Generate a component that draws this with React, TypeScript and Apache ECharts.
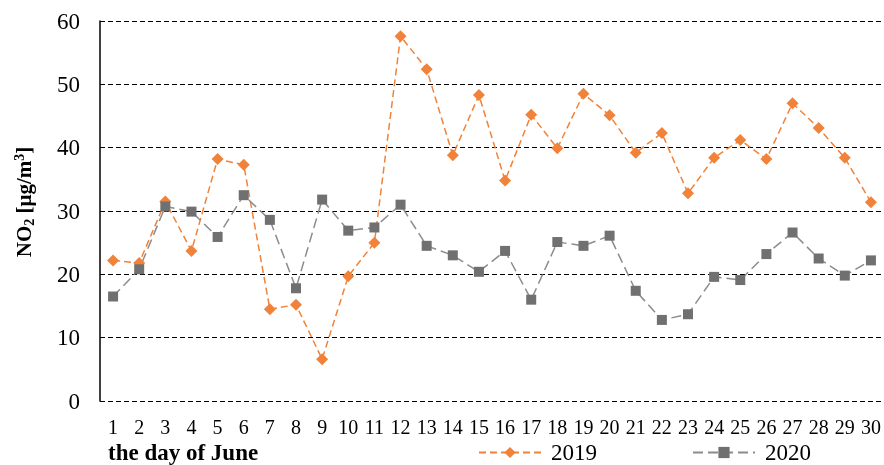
import React, { useEffect, useRef } from "react";
import * as echarts from "echarts";

const days = ["1","2","3","4","5","6","7","8","9","10","11","12","13","14","15","16","17","18","19","20","21","22","23","24","25","26","27","28","29","30"];
const values2019 = [22.2, 21.8, 31.5, 23.7, 38.2, 37.3, 14.5, 15.2, 6.6, 19.7, 25.0, 57.6, 52.4, 38.8, 48.3, 34.8, 45.2, 39.9, 48.5, 45.1, 39.2, 42.3, 32.8, 38.4, 41.2, 38.2, 47.0, 43.1, 38.4, 31.4];
const values2020 = [16.5, 20.8, 30.7, 29.9, 25.9, 32.5, 28.6, 17.8, 31.8, 26.9, 27.4, 31.0, 24.5, 23.0, 20.4, 23.7, 16.0, 25.1, 24.5, 26.1, 17.4, 12.8, 13.7, 19.6, 19.1, 23.2, 26.6, 22.5, 19.8, 22.2];
const seriesNames = ["2019", "2020"];

const FONT = "'Liberation Serif', 'Times New Roman', serif";

export default function App() {
  const ref = useRef<HTMLDivElement>(null);
  useEffect(() => {
    if (!ref.current) return;
    const chart = echarts.init(ref.current, null, { renderer: "svg" });
    chart.setOption({
      animation: false,
      textStyle: { fontFamily: FONT },
      grid: { left: 100, right: 0, top: 21, bottom: 64, containLabel: false },
      legend: {
        left: 478,
        top: 441,
        padding: 0,
        itemWidth: 62,
        itemHeight: 14,
        itemGap: 95,
        textStyle: { fontFamily: FONT, fontSize: 23, color: "#000", lineHeight: 23, padding: [0, 0, 0, 5] },
        data: seriesNames,
      },
      xAxis: {
        type: "category",
        data: days,
        boundaryGap: true,
        axisLine: { show: false },
        axisTick: { show: false },
        axisLabel: { color: "#000", fontSize: 20, lineHeight: 20, fontFamily: FONT, margin: 16, interval: 0 },
      },
      yAxis: {
        type: "value",
        min: 0,
        max: 60,
        interval: 10,
        axisLine: { show: true, lineStyle: { color: "#000", width: 1.5 } },
        axisTick: { show: false },
        axisLabel: { color: "#000", fontSize: 23, fontFamily: FONT, margin: 20 },
        splitLine: { show: true, lineStyle: { color: "#000", type: [5, 3], width: 1 } },
      },
      graphic: [
        {
          type: "text",
          left: 108,
          top: 441,
          style: { text: "the day of June", font: `bold 23px ${FONT}`, lineHeight: 23, fill: "#000" },
        },
        {
          type: "text",
          x: 24,
          y: 202,
          rotation: Math.PI / 2,
          style: {
            text: "{a|NO}{sub|2}{a| [μg/m}{sup|3}{a|]}",
            align: "center",
            verticalAlign: "middle",
            rich: {
              a: { fontFamily: FONT, fontSize: 21, fontWeight: "bold", fill: "#000", lineHeight: 24 },
              sub: { fontFamily: FONT, fontSize: 14, fontWeight: "bold", fill: "#000", verticalAlign: "bottom", lineHeight: 14 },
              sup: { fontFamily: FONT, fontSize: 14, fontWeight: "bold", fill: "#000", verticalAlign: "top", lineHeight: 14 },
            },
          },
        },
      ],
      series: [
        {
          name: "2019",
          type: "line",
          data: values2019,
          symbol: "diamond",
          symbolSize: 12,
          itemStyle: { color: "#F0823A" },
          lineStyle: { color: "#F0823A", width: 1.5, type: [7, 4] },
        },
        {
          name: "2020",
          type: "line",
          data: values2020,
          symbol: "rect",
          symbolSize: 10,
          itemStyle: { color: "#707070" },
          lineStyle: { color: "#8c8c8c", width: 1.5, type: [10, 5] },
        },
      ],
    });
    return () => chart.dispose();
  }, []);
  return <div ref={ref} style={{ position: "fixed", left: 0, top: 0, width: 884, height: 465 }} />;
}
